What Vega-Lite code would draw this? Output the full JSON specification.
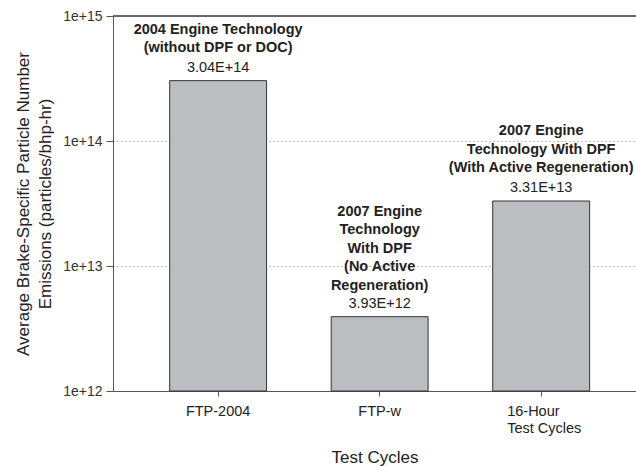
{
  "$schema": "https://vega.github.io/schema/vega-lite/v6.json",
  "width": 523,
  "height": 375,
  "autosize": {"type": "none"},
  "padding": {"left": 113, "top": 16, "right": 0, "bottom": 75},
  "background": "white",
  "config": {
    "font": "Liberation Sans",
    "view": {"stroke": null},
    "axis": {"labelFont": "Liberation Sans", "titleFont": "Liberation Sans", "titleFontWeight": "normal"}
  },
  "data": {
    "values": [
      {"cycle": "FTP-2004", "value": 3.04e14, "label": "3.04E+14", "note": ["2004 Engine Technology", "(without DPF or DOC)"]},
      {"cycle": "FTP-w", "value": 3.93e12, "label": "3.93E+12", "note": ["2007 Engine", "Technology", "With DPF", "(No Active", "Regeneration)"]},
      {"cycle": "16-Hour Test Cycles", "value": 3.31e13, "label": "3.31E+13", "note": ["2007 Engine", "Technology With DPF", "(With Active Regeneration)"]}
    ]
  },
  "layer": [
    {
      "mark": {"type": "bar", "color": "#bcbdc1", "stroke": "#333", "strokeWidth": 1},
      "encoding": {
        "x": {
          "field": "cycle",
          "type": "nominal",
          "sort": null,
          "scale": {"paddingInner": 0.4, "paddingOuter": 0.319, "align": 0.55},
          "axis": {
            "title": "Test Cycles",
            "titleFontSize": 17,
            "titleColor": "#222",
            "titlePadding": 15,
            "labelAngle": 0,
            "labelFontSize": 14.5,
            "labelColor": "#222",
            "labelPadding": 8,
            "labelLineHeight": 17,
            "labelAlign": {"condition": {"test": "datum.value == '16-Hour Test Cycles'", "value": "left"}, "value": "center"},
            "labelOffset": {"condition": {"test": "datum.value == '16-Hour Test Cycles'", "value": -34}, "value": 0},
            "labelExpr": "datum.value == '16-Hour Test Cycles' ? ['16-Hour', 'Test Cycles'] : datum.value",
            "domainColor": "#555",
            "tickColor": "#555",
            "tickSize": 5,
            "grid": false
          }
        },
        "y": {
          "field": "value",
          "type": "quantitative",
          "scale": {"type": "log", "domain": [1e12, 1e15], "nice": false},
          "axis": {
            "title": ["Average Brake-Specific Particle Number", "Emissions (particles/bhp-hr)"],
            "titleFontSize": 17,
            "titleColor": "#222",
            "titleLineHeight": 22,
            "titlePadding": 8,
            "values": [1e12, 1e13, 1e14, 1e15],
            "labelExpr": "'1e+' + round(log(datum.value) / LN10)",
            "labelFontSize": 14,
            "labelColor": "#333",
            "labelPadding": 4,
            "domainColor": "#555",
            "tickColor": "#555",
            "tickSize": 7,
            "grid": true,
            "gridColor": "#888",
            "gridDash": [1, 3],
            "gridWidth": 1
          }
        },
        "y2": {"datum": 1e12}
      }
    },
    {
      "mark": {"type": "text", "baseline": "alphabetic", "dy": -9, "fontSize": 14.5, "color": "#222"},
      "encoding": {
        "x": {"field": "cycle", "type": "nominal", "sort": null},
        "y": {"field": "value", "type": "quantitative"},
        "text": {"field": "label"}
      }
    },
    {
      "transform": [{"filter": "datum.cycle == 'FTP-2004'"}],
      "mark": {"type": "text", "baseline": "bottom", "dy": -44, "fontSize": 14.5, "fontWeight": "bold", "lineHeight": 18.5, "color": "#222"},
      "encoding": {
        "x": {"field": "cycle", "type": "nominal", "sort": null},
        "y": {"field": "value", "type": "quantitative"},
        "text": {"field": "note"}
      }
    },
    {
      "transform": [{"filter": "datum.cycle == 'FTP-w'"}],
      "mark": {"type": "text", "baseline": "bottom", "dy": -98, "fontSize": 14.5, "fontWeight": "bold", "lineHeight": 18.5, "color": "#222"},
      "encoding": {
        "x": {"field": "cycle", "type": "nominal", "sort": null},
        "y": {"field": "value", "type": "quantitative"},
        "text": {"field": "note"}
      }
    },
    {
      "transform": [{"filter": "datum.cycle == '16-Hour Test Cycles'"}],
      "mark": {"type": "text", "baseline": "bottom", "dy": -63, "fontSize": 14.5, "fontWeight": "bold", "lineHeight": 18.5, "color": "#222"},
      "encoding": {
        "x": {"field": "cycle", "type": "nominal", "sort": null},
        "y": {"field": "value", "type": "quantitative"},
        "text": {"field": "note"}
      }
    },
    {
      "mark": {"type": "rule", "color": "#555", "strokeWidth": 1},
      "encoding": {"y": {"datum": 1e15}}
    }
  ]
}
